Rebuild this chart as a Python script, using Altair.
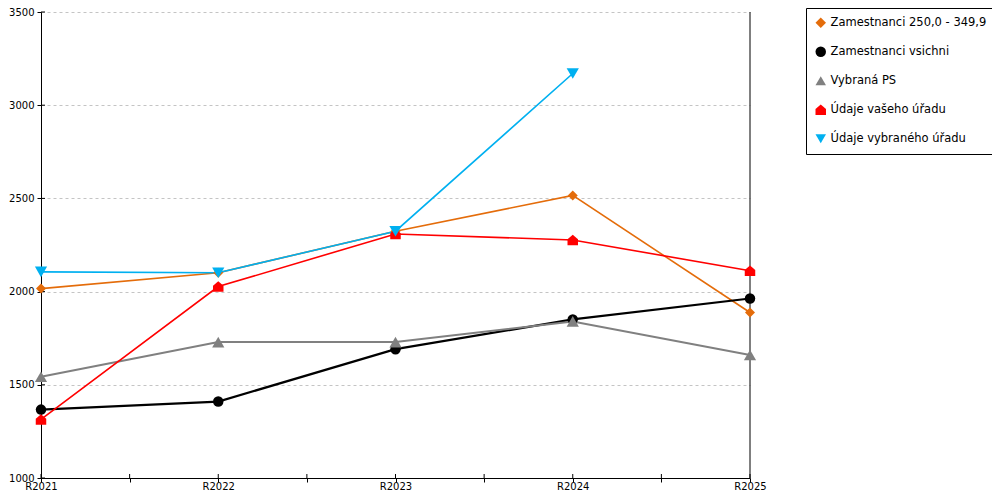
import altair as alt
import pandas as pd

years = ["R2021", "R2022", "R2023", "R2024", "R2025"]
series = [
    "Zamestnanci 250,0 - 349,9",
    "Zamestnanci vsichni",
    "Vybraná PS",
    "Údaje vašeho úřadu",
    "Údaje vybraného úřadu",
]
zam_250 = [2016, 2101, 2324, 2516, 1888]
zam_all = [1367, 1410, 1691, 1851, 1963]
vybrana_ps = [1543, 1729, 1729, 1840, 1660]
vas_urad = [1314, 2027, 2309, 2277, 2112]
vybrany_urad = [2106, 2101, 2324, 3170, None]
y_ticks = [1000, 1500, 2000, 2500, 3000, 3500]
x_ticks = [0, 0.5, 1, 1.5, 2, 2.5, 3, 3.5, 4]

colors = ["#E46C0A", "#000000", "#808080", "#FF0000", "#00B0F0"]
widths = [1.6, 2.2, 2.0, 1.6, 1.6]
marker_sizes = [100, 110, 150, 110, 150]
house = "M-1,1L1,1L1,-0.15L0,-1L-1,-0.15Z"
shapes = ["diamond", "circle", "triangle-up", house, "triangle-down"]

rows = []
for name, vals in zip(series, [zam_250, zam_all, vybrana_ps, vas_urad, vybrany_urad]):
    for i, (yr, v) in enumerate(zip(years, vals)):
        if v is not None:
            rows.append({"series": name, "idx": i, "year": yr, "value": v})
df = pd.DataFrame(rows)

W, H = 709, 466
label_expr = "datum.value % 1 === 0 ? " + str(years) + "[datum.value] : ''"

x_enc = alt.X(
    "idx:Q",
    scale=alt.Scale(domain=[0, 4], nice=False, zero=False),
    axis=alt.Axis(
        values=x_ticks, labelExpr=label_expr, grid=False, title=None,
        tickSize=4, labelPadding=7, labelBaseline="alphabetic",
        labelFontSize=10, labelFont="DejaVu Sans",
        labelColor="black", domainColor="black", tickColor="black",
        labelFlush=False, labelOverlap=False,
    ),
)
y_enc = alt.Y(
    "value:Q",
    scale=alt.Scale(domain=[1000, 3500], nice=False, zero=False),
    axis=alt.Axis(
        values=y_ticks, format="d", title=None, grid=True, gridColor="#c4c4c4",
        gridDash=[3, 3], gridWidth=1, tickSize=4, labelPadding=3,
        labelFontSize=10, labelFont="DejaVu Sans", labelColor="black",
        domainColor="black", tickColor="black",
    ),
)

base = alt.Chart(df)

line_layers = []
for name, col, w in zip(series, colors, widths):
    line_layers.append(
        base.transform_filter(alt.datum.series == name)
        .mark_line(color=col, strokeWidth=w)
        .encode(x=x_enc, y=y_enc, order=alt.Order("idx:Q"))
    )

point_layers = []
for name, sz in zip(series, marker_sizes):
    point_layers.append(
        base.transform_filter(alt.datum.series == name)
        .mark_point(filled=True, opacity=1, size=sz, strokeWidth=0)
        .encode(
            x="idx:Q",
            y="value:Q",
            fill=alt.Fill("series:N", scale=alt.Scale(domain=series, range=colors), title=None),
            shape=alt.Shape("series:N", scale=alt.Scale(domain=series, range=shapes), title=None),
        )
    )

ytick_df = pd.DataFrame({"value": y_ticks})
inner_y = alt.Chart(ytick_df).mark_rule(color="black", strokeWidth=1).encode(
    y="value:Q", x=alt.value(0), x2=alt.value(4)
)
xtick_df = pd.DataFrame({"idx": x_ticks})
inner_x = alt.Chart(xtick_df).mark_rule(color="black", strokeWidth=1).encode(
    x="idx:Q", y=alt.value(H - 4), y2=alt.value(H)
)
right_line = alt.Chart(pd.DataFrame({"idx": [4]})).mark_rule(color="black", strokeWidth=1).encode(
    x="idx:Q", y=alt.value(0), y2=alt.value(H)
)

chart = (
    alt.layer(inner_y, inner_x, right_line, *line_layers, *point_layers)
    .properties(
        width=W,
        height=H,
        autosize=alt.AutoSizeParams(type="none"),
        padding={"left": 33, "top": 4, "right": 242, "bottom": 14},
        background="white",
    )
    .configure_view(stroke=None)
    .configure_legend(
        orient="none",
        legendX=765,
        legendY=-4,
        strokeColor="black",
        fillColor="white",
        padding=9,
        rowPadding=16,
        symbolSize=110,
        symbolStrokeWidth=0,
        labelFont="DejaVu Sans",
        labelFontSize=11.5,
        labelColor="black",
        labelOffset=4,
        labelLimit=400,
    )
)

chart.save("out.html", embed_options={"renderer": "svg", "actions": False})
